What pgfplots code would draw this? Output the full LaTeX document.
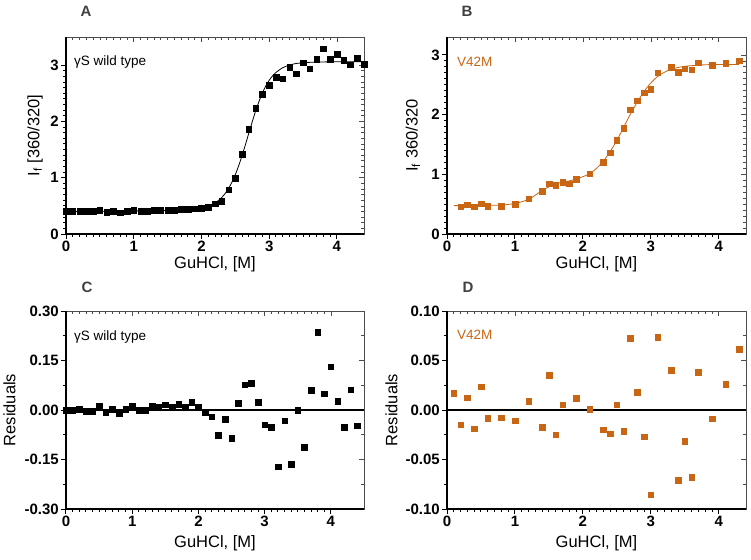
\documentclass[border=0pt]{standalone}
\usepackage{pgfplots}
\pgfplotsset{compat=1.18}
\usepackage{fontspec}
\setmainfont{Liberation Sans}
\definecolor{orng}{RGB}{200,102,20}
\pgfplotsset{
  common/.style={scale only axis, clip=false,
    major tick length=5pt, minor tick length=3pt},
  frame/.style={common,
    axis line style={black!70, line width=0.8pt},
    tick align=inside, xtick pos=right, ytick pos=right,
    xticklabels={}, yticklabels={},
    every tick/.style={black!70, line width=0.7pt}},
  main/.style={common,
    axis x line*=bottom, axis y line*=left,
    axis line style={black, line width=1.8pt},
    tick align=outside,
    every tick/.style={black, line width=1pt},
    /pgf/number format/assume math mode=true,
    xticklabel={\pgfmathprintnumber{\tick}},
    yticklabel={\pgfmathprintnumber{\tick}},
    tick label style={font=\fontsize{15}{16}\selectfont\bfseries, inner sep=2pt},
    label style={font=\fontsize{16.5}{18}\selectfont}},
}
\begin{document}
\begin{tikzpicture}
\useasboundingbox (0,0) rectangle (751pt,-559pt);
% ---------------- Panel A ----------------
\begin{axis}[frame, at={(66pt,-234pt)}, anchor=south west, width=298pt, height=197pt,
  xmin=0, xmax=4.4, ymin=0, ymax=3.5, xtick={0,1,2,3,4}, ytick={0,1,2,3},
  minor x tick num=9, minor y tick num=9]
\end{axis}
\begin{axis}[main, at={(66pt,-234pt)}, anchor=south west, width=298pt, height=197pt,
  xmin=0, xmax=4.4, ymin=0, ymax=3.5, xtick={0,1,2,3,4}, ytick={0,1,2,3},
  minor x tick num=9, minor y tick num=9,
  xlabel={GuHCl, [M]}, ylabel={I\textsubscript{f} [360/320]},
  xlabel style={at={(axis description cs:0.5,-0.155)}, anchor=center},
  ylabel style={at={(axis description cs:-0.104,0.5)}, anchor=center}]
\addplot[black, line width=0.8pt, smooth, no marks] coordinates {
(0,0.40)(0.5,0.405)(1.0,0.41)(1.5,0.42)(1.8,0.43)(1.9,0.435)(2.0,0.45)(2.1,0.485)
(2.2,0.55)(2.25,0.595)(2.3,0.65)(2.35,0.72)(2.4,0.81)(2.45,0.92)(2.5,1.055)
(2.55,1.215)(2.6,1.395)(2.65,1.59)(2.7,1.795)(2.75,1.995)(2.8,2.185)(2.85,2.355)
(2.9,2.505)(2.95,2.63)(3.0,2.73)(3.05,2.81)(3.1,2.87)(3.2,2.955)(3.3,3.0)(3.4,3.03)
(3.6,3.05)(3.8,3.057)(4.0,3.06)(4.4,3.062)};
\addplot[only marks, mark=square*, mark size=2.8pt, black] coordinates {
(0,0.40)(0.1,0.40)(0.2,0.41)(0.3,0.40)(0.4,0.40)(0.5,0.42)(0.6,0.39)(0.7,0.40)
(0.8,0.38)(0.9,0.40)(1.0,0.42)(1.1,0.40)(1.2,0.40)(1.3,0.42)(1.4,0.42)(1.5,0.42)
(1.6,0.42)(1.7,0.44)(1.8,0.44)(1.9,0.45)(2.0,0.46)(2.1,0.48)(2.2,0.54)(2.3,0.58)
(2.4,0.79)(2.5,0.99)(2.6,1.42)(2.7,1.86)(2.8,2.23)(2.9,2.48)(3.0,2.64)(3.1,2.79)
(3.2,2.76)(3.3,2.96)(3.4,2.85)(3.5,3.04)(3.6,2.94)(3.7,3.11)(3.8,3.29)(3.9,3.11)
(4.0,3.19)(4.1,3.09)(4.2,3.01)(4.3,3.12)(4.4,3.02)};
\end{axis}
% ---------------- Panel B ----------------
\begin{axis}[frame, at={(447pt,-234pt)}, anchor=south west, width=299pt, height=197pt,
  xmin=0, xmax=4.4, ymin=0, ymax=3.3, xtick={0,1,2,3,4}, ytick={0,1,2,3},
  minor x tick num=9, minor y tick num=9]
\end{axis}
\begin{axis}[main, at={(447pt,-234pt)}, anchor=south west, width=299pt, height=197pt,
  xmin=0, xmax=4.4, ymin=0, ymax=3.3, xtick={0,1,2,3,4}, ytick={0,1,2,3},
  minor x tick num=9, minor y tick num=9,
  xlabel={GuHCl, [M]}, ylabel={I\textsubscript{f} 360/320},
  xlabel style={at={(axis description cs:0.5,-0.155)}, anchor=center},
  ylabel style={at={(axis description cs:-0.114,0.5)}, anchor=center}]
\addplot[orng, line width=0.8pt, smooth, no marks] coordinates {
(0.1,0.475)(0.2,0.476)(0.4,0.478)(0.6,0.48)(0.8,0.485)(0.9,0.495)(1.0,0.51)(1.1,0.54)
(1.2,0.58)(1.3,0.65)(1.4,0.73)(1.5,0.79)(1.6,0.84)(1.7,0.87)(1.8,0.89)(1.9,0.92)
(2.0,0.96)(2.1,1.01)(2.2,1.10)(2.3,1.22)(2.4,1.38)(2.5,1.57)(2.6,1.79)(2.7,2.01)
(2.8,2.21)(2.9,2.39)(3.0,2.53)(3.1,2.64)(3.2,2.71)(3.3,2.76)(3.4,2.79)(3.5,2.81)
(3.6,2.82)(3.8,2.835)(4.0,2.84)(4.3,2.84)};
\addplot[only marks, mark=square*, mark size=2.8pt, orng] coordinates {
(0.2,0.46)(0.3,0.49)(0.4,0.46)(0.5,0.51)(0.6,0.47)(0.8,0.47)(1.0,0.50)(1.2,0.59)
(1.4,0.72)(1.5,0.84)(1.6,0.82)(1.7,0.87)(1.8,0.84)(1.9,0.92)(2.1,1.01)(2.3,1.20)
(2.4,1.36)(2.5,1.57)(2.6,1.77)(2.7,2.08)(2.8,2.23)(2.9,2.37)(3.0,2.43)(3.1,2.70)
(3.3,2.79)(3.4,2.71)(3.5,2.77)(3.6,2.75)(3.7,2.87)(3.9,2.83)(4.1,2.86)(4.3,2.90)};
\end{axis}
% ---------------- Panel C ----------------
\begin{axis}[frame, at={(66pt,-509pt)}, anchor=south west, width=298pt, height=198pt,
  xmin=0, xmax=4.5, ymin=-0.3, ymax=0.3, xtick={0,1,2,3,4}, ytick={-0.3,-0.15,0,0.15,0.3},
  minor x tick num=9, minor y tick num=1]
\end{axis}
\begin{axis}[main, at={(66pt,-509pt)}, anchor=south west, width=298pt, height=198pt,
  xmin=0, xmax=4.5, ymin=-0.3, ymax=0.3, xtick={0,1,2,3,4}, ytick={-0.3,-0.15,0,0.15,0.3},
  minor x tick num=9, minor y tick num=1,
  yticklabel style={/pgf/number format/.cd, fixed, fixed zerofill, precision=2},
  xlabel={GuHCl, [M]}, ylabel={Residuals},
  xlabel style={at={(axis description cs:0.5,-0.172)}, anchor=center},
  ylabel style={at={(axis description cs:-0.19,0.5)}, anchor=center}]
\addplot[black, line width=1.5pt, no marks] coordinates {(0,0)(4.5,0)};
\addplot[only marks, mark=square*, mark size=2.8pt, black] coordinates {
(0,0.000)(0.1,-0.001)(0.2,0.003)(0.3,-0.003)(0.4,-0.003)(0.5,0.011)(0.6,-0.007)
(0.7,0.002)(0.8,-0.010)(0.9,0.002)(1.0,0.013)(1.1,0.000)(1.2,-0.001)(1.3,0.011)
(1.4,0.010)(1.5,0.016)(1.6,0.008)(1.7,0.018)(1.8,0.010)(1.9,0.023)(2.0,0.008)
(2.1,-0.007)(2.2,-0.020)(2.3,-0.076)(2.4,-0.027)(2.5,-0.085)(2.6,0.020)(2.7,0.077)
(2.8,0.082)(2.9,0.024)(3.0,-0.044)(3.1,-0.053)(3.2,-0.172)(3.3,-0.033)(3.4,-0.164)
(3.5,0.000)(3.6,-0.112)(3.7,0.060)(3.8,0.235)(3.9,0.050)(4.0,0.131)(4.1,0.026)
(4.2,-0.052)(4.3,0.061)(4.4,-0.047)};
\end{axis}
% ---------------- Panel D ----------------
\begin{axis}[frame, at={(447pt,-509pt)}, anchor=south west, width=299pt, height=198pt,
  xmin=0, xmax=4.4, ymin=-0.1, ymax=0.1, xtick={0,1,2,3,4}, ytick={-0.1,-0.05,0,0.05,0.1},
  minor x tick num=9, minor y tick num=1]
\end{axis}
\begin{axis}[main, at={(447pt,-509pt)}, anchor=south west, width=299pt, height=198pt,
  xmin=0, xmax=4.4, ymin=-0.1, ymax=0.1, xtick={0,1,2,3,4}, ytick={-0.1,-0.05,0,0.05,0.1},
  minor x tick num=9, minor y tick num=1,
  yticklabel style={/pgf/number format/.cd, fixed, fixed zerofill, precision=2},
  xlabel={GuHCl, [M]}, ylabel={Residuals},
  xlabel style={at={(axis description cs:0.5,-0.172)}, anchor=center},
  ylabel style={at={(axis description cs:-0.186,0.5)}, anchor=center}]
\addplot[black, line width=1.5pt, no marks] coordinates {(0,0)(4.4,0)};
\addplot[only marks, mark=square*, mark size=2.8pt, orng] coordinates {
(0.1,0.017)(0.2,-0.015)(0.3,0.0125)(0.4,-0.019)(0.5,0.0237)(0.6,-0.008)(0.8,-0.0078)
(1.0,-0.011)(1.2,0.009)(1.4,-0.0176)(1.5,0.035)(1.6,-0.025)(1.7,0.0054)(1.9,0.012)
(2.1,0.001)(2.3,-0.020)(2.4,-0.024)(2.5,0.0054)(2.6,-0.0216)(2.7,0.0723)(2.8,0.018)
(2.9,-0.027)(3.0,-0.0855)(3.1,0.0736)(3.3,0.040)(3.4,-0.0706)(3.5,-0.0314)(3.6,-0.068)
(3.7,0.038)(3.9,-0.0088)(4.1,0.026)(4.3,0.0615)};
\end{axis}
% ---------------- Annotations ----------------
\node[font=\fontsize{15}{16}\selectfont\bfseries, text=black!75] at (86pt,-11pt) {A};
\node[font=\fontsize{15}{16}\selectfont\bfseries, text=black!75] at (467pt,-11pt) {B};
\node[font=\fontsize{15}{16}\selectfont\bfseries, text=black!75] at (87pt,-287pt) {C};
\node[font=\fontsize{15}{16}\selectfont\bfseries, text=black!75] at (468pt,-287pt) {D};
\node[font=\fontsize{13.5}{15}\selectfont, anchor=west, inner sep=0pt] at (74pt,-62pt) {γS wild type};
\node[font=\fontsize{13.5}{15}\selectfont, anchor=west, inner sep=0pt] at (74pt,-337pt) {γS wild type};
\node[font=\fontsize{13.5}{15}\selectfont, anchor=west, inner sep=0pt, text=orng] at (457pt,-62pt) {V42M};
\node[font=\fontsize{13.5}{15}\selectfont, anchor=west, inner sep=0pt, text=orng] at (457pt,-335pt) {V42M};
\end{tikzpicture}
\end{document}
